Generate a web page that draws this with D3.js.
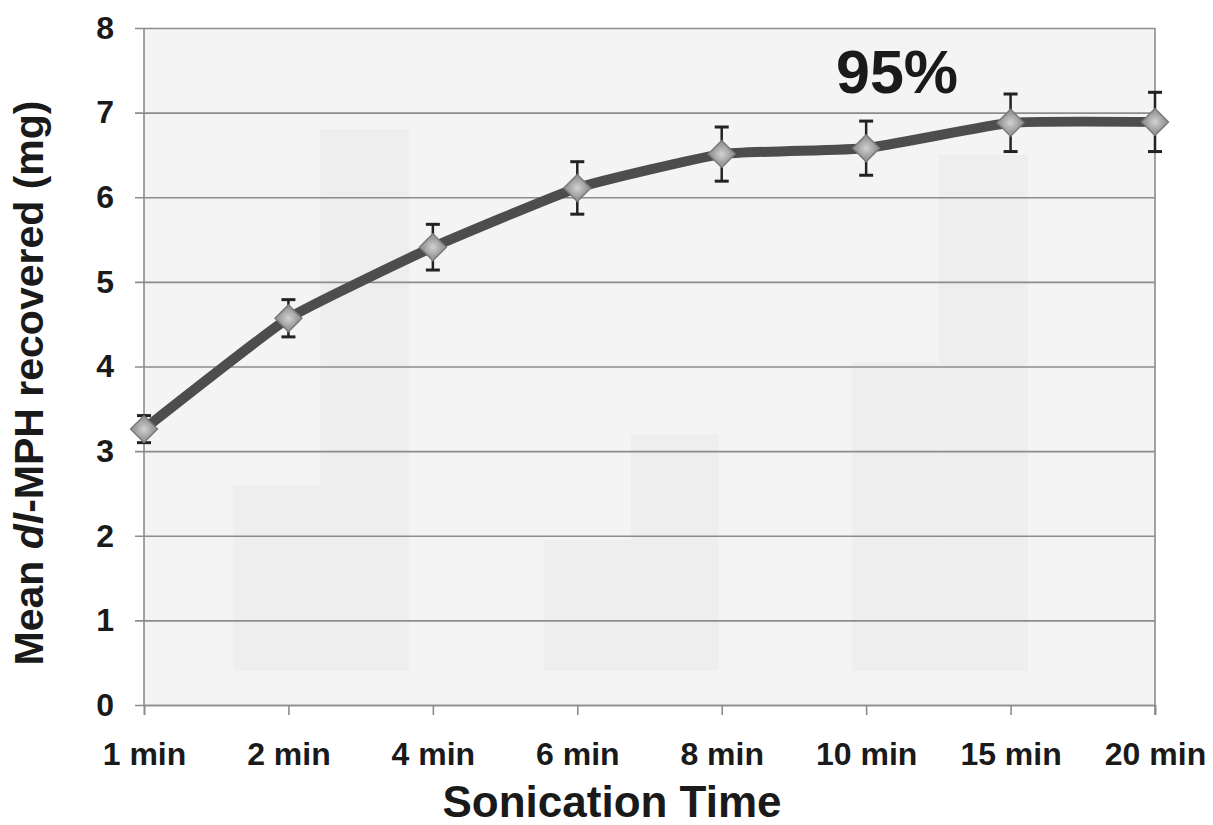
<!DOCTYPE html>
<html>
<head>
<meta charset="utf-8">
<script src="https://cdn.jsdelivr.net/npm/d3@7"></script>
<style>
  body { margin: 0; background: #fff; }
  text { font-family: "Liberation Sans", Arial, sans-serif; font-weight: bold; fill: #1a1a1a; }
</style>
</head>
<body>
<svg width="1213" height="825"></svg>
<script>
const times = ["1 min", "2 min", "4 min", "6 min", "8 min", "10 min", "15 min", "20 min"]
const meanMg = [3.26, 4.57, 5.41, 6.11, 6.51, 6.58, 6.88, 6.89]
const errMg = [0.16, 0.22, 0.27, 0.31, 0.32, 0.32, 0.34, 0.35]
const yTicks = [0, 1, 2, 3, 4, 5, 6, 7, 8]

// faint bars showing through from the other side of the page (x in category index units)
const ghostFrom = [0.62, 1.22, 2.77, 3.37, 4.9, 5.5]
const ghostTo = [1.22, 1.84, 3.37, 3.98, 5.5, 6.12]
const ghostTop = [2.6, 6.8, 1.95, 3.2, 4.05, 6.5]
const ghostBase = 0.4

const svg = d3.select('svg')
const margin = {top: 28, right: 58, bottom: 120, left: 144}
const width = 1213 - margin.left - margin.right
const height = 825 - margin.top - margin.bottom

const g = svg.append('g').attr('transform', `translate(${margin.left},${margin.top})`)

const x = d3.scalePoint().domain(times).range([0, width])
const xi = d3.scaleLinear().domain([0, times.length - 1]).range([0, width])
const y = d3.scaleLinear().domain([0, 8]).range([height, 0])

// plot background
g.append('rect').attr('width', width).attr('height', height).attr('fill', '#f4f4f4')

g.selectAll('.ghost').data(ghostTop).enter().append('rect')
  .attr('class', 'ghost')
  .attr('x', (d, i) => xi(ghostFrom[i]))
  .attr('width', (d, i) => xi(ghostTo[i]) - xi(ghostFrom[i]))
  .attr('y', d => y(d))
  .attr('height', d => y(ghostBase) - y(d))
  .attr('fill', '#eeeeee')

// gridlines + y axis
const yAxis = g.append('g')
  .call(d3.axisLeft(y).tickValues(yTicks).tickSize(-width - 9).tickPadding(22).tickFormat(d3.format('d')))
  .attr('transform', 'translate(-9,0)')
yAxis.select('.domain').remove()
yAxis.selectAll('.tick line').attr('x1', 9 + width).attr('x2', 0).attr('stroke', '#8c8c8c').attr('stroke-width', 1.6)
yAxis.selectAll('.tick text').attr('font-size', 32).attr('fill', '#1a1a1a').style('font-family', '"Liberation Sans", Arial, sans-serif').attr('x', -21)

// borders
g.append('line').attr('x1', 0).attr('x2', 0).attr('y1', 0).attr('y2', height).attr('stroke', '#8c8c8c').attr('stroke-width', 1.6)
g.append('line').attr('x1', width).attr('x2', width).attr('y1', 0).attr('y2', height + 10).attr('stroke', '#8c8c8c').attr('stroke-width', 1.6)

// x axis
const xAxis = g.append('g').attr('transform', `translate(0,${height})`)
  .call(d3.axisBottom(x).tickSize(10).tickPadding(27))
xAxis.select('.domain').attr('stroke', '#8c8c8c').attr('stroke-width', 1.6)
xAxis.selectAll('.tick line').attr('stroke', '#8c8c8c').attr('stroke-width', 1.6)
xAxis.selectAll('.tick text').attr('font-size', 32).attr('fill', '#1a1a1a').style('font-family', '"Liberation Sans", Arial, sans-serif')

// line
const line = d3.line().x((d, i) => x(times[i])).y(d => y(d)).curve(d3.curveCardinal.tension(0.6))
g.append('path').datum(meanMg)
  .attr('d', line)
  .attr('fill', 'none')
  .attr('stroke', '#4d4d4d')
  .attr('stroke-width', 10)
  .attr('stroke-linejoin', 'round')

// error bars
const eb = g.selectAll('.err').data(meanMg).enter().append('g').attr('class', 'err')
eb.append('line')
  .attr('x1', (d, i) => x(times[i])).attr('x2', (d, i) => x(times[i]))
  .attr('y1', (d, i) => y(d + errMg[i])).attr('y2', (d, i) => y(d - errMg[i]))
  .attr('stroke', '#222').attr('stroke-width', 2.5)
eb.selectAll('.cap').data((d, i) => [[i, d + errMg[i]], [i, d - errMg[i]]]).enter().append('line')
  .attr('x1', d => x(times[d[0]]) - 7).attr('x2', d => x(times[d[0]]) + 7)
  .attr('y1', d => y(d[1])).attr('y2', d => y(d[1]))
  .attr('stroke', '#222').attr('stroke-width', 3)

// diamond markers
const defs = svg.append('defs')
const grad = defs.append('radialGradient').attr('id', 'dg')
grad.append('stop').attr('offset', '0%').attr('stop-color', '#d2d2d2')
grad.append('stop').attr('offset', '100%').attr('stop-color', '#9c9c9c')

g.selectAll('.mk').data(meanMg).enter().append('path')
  .attr('class', 'mk')
  .attr('d', d3.symbol().type(d3.symbolSquare).size(360))
  .attr('transform', (d, i) => `translate(${x(times[i])},${y(d)}) rotate(45)`)
  .attr('fill', 'url(#dg)')
  .attr('stroke', '#7a7a7a')
  .attr('stroke-width', 1.5)

// annotation
g.append('text').attr('x', 836 - margin.left).attr('y', 93 - margin.top)
  .attr('font-size', 61).text('95%')

// axis titles
svg.append('text').attr('x', 612).attr('y', 817).attr('text-anchor', 'middle')
  .attr('font-size', 44).text('Sonication Time')

const yt = svg.append('text').attr('transform', 'translate(43,383) rotate(-90)')
  .attr('text-anchor', 'middle').attr('font-size', 41)
yt.append('tspan').text('Mean ')
yt.append('tspan').attr('font-style', 'italic').text('dl')
yt.append('tspan').text('-MPH recovered (mg)')
</script>
</body>
</html>
